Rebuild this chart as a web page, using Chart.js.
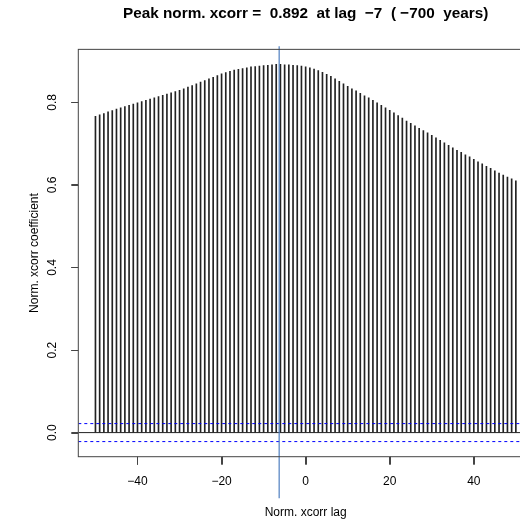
<!DOCTYPE html>
<html>
<head>
<meta charset="utf-8">
<script src="https://cdn.jsdelivr.net/npm/chart.js@4/dist/chart.umd.min.js"></script>
<style>
  html, body { margin: 0; padding: 0; background: #fff; overflow: hidden; }
  #wrap { width: 540px; height: 519px; }
</style>
</head>
<body>
<div id="wrap"><canvas id="xcorrChart"></canvas></div>
<script>
// lags shown in the plot
const lags = [
  -50, -49, -48, -47, -46, -45, -44, -43, -42, -41,
  -40, -39, -38, -37, -36, -35, -34, -33, -32, -31,
  -30, -29, -28, -27, -26, -25, -24, -23, -22, -21,
  -20, -19, -18, -17, -16, -15, -14, -13, -12, -11,
  -10, -9, -8, -7, -6, -5, -4, -3, -2, -1,
  0, 1, 2, 3, 4, 5, 6, 7, 8, 9,
  10, 11, 12, 13, 14, 15, 16, 17, 18, 19,
  20, 21, 22, 23, 24, 25, 26, 27, 28, 29,
  30, 31, 32, 33, 34, 35, 36, 37, 38, 39,
  40, 41, 42, 43, 44, 45, 46, 47, 48, 49,
  50
];

// normalised cross-correlation at each lag
const xcorr = [
  0.766, 0.770, 0.773, 0.777, 0.780, 0.784, 0.787, 0.790, 0.793, 0.796,
  0.799, 0.802, 0.805, 0.808, 0.811, 0.814, 0.817, 0.820, 0.823, 0.826,
  0.829, 0.833, 0.837, 0.841, 0.845, 0.849, 0.853, 0.857, 0.861, 0.865,
  0.869, 0.872, 0.875, 0.878, 0.880, 0.882, 0.884, 0.886, 0.887, 0.888,
  0.889, 0.890, 0.891, 0.892, 0.892, 0.891, 0.891, 0.890, 0.889, 0.888,
  0.886, 0.884, 0.881, 0.877, 0.873, 0.868, 0.863, 0.857, 0.851, 0.845,
  0.839, 0.833, 0.828, 0.822, 0.816, 0.811, 0.805, 0.799, 0.793, 0.787,
  0.781, 0.775, 0.768, 0.762, 0.755, 0.749, 0.743, 0.737, 0.732, 0.726,
  0.720, 0.714, 0.708, 0.702, 0.696, 0.690, 0.684, 0.679, 0.673, 0.668,
  0.662, 0.656, 0.651, 0.645, 0.640, 0.634, 0.629, 0.624, 0.619, 0.615,
  0.610
];

const confLimit = 0.0218;   // dashed significance lines at +/-
const peakLagLine = -6.3;   // where the vertical marker sits
const xRange = [-54.08, 54.08];
const yRange = [-0.0584, 0.9285];
const markerRange = [-0.159, 0.936];

const xTicks = [-40, -20, 0, 20, 40];
const yTicks = [0.0, 0.2, 0.4, 0.6, 0.8];

const titleText = 'Peak norm. xcorr =  0.892  at lag  \u22127  ( \u2212700  years)';

function fmtMinus(v) {
  return v < 0 ? '\u2212' + Math.abs(v) : String(v);
}

// R-style box round the plot region, plus outward tick marks
const boxPlugin = {
  id: 'box',
  afterDraw(chart) {
    const a = chart.chartArea;
    const c = chart.ctx;
    const xs = chart.scales.x;
    const ys = chart.scales.y;
    c.save();
    c.strokeStyle = '#444';
    c.lineWidth = 1;
    c.strokeRect(a.left, a.top, a.right - a.left, a.bottom - a.top);
    c.beginPath();
    xTicks.forEach(v => {
      const px = Math.round(xs.getPixelForValue(v)) + 0.5;
      c.moveTo(px, a.bottom);
      c.lineTo(px, a.bottom + 8);
    });
    yTicks.forEach(v => {
      const py = Math.round(ys.getPixelForValue(v)) + 0.5;
      c.moveTo(a.left, py);
      c.lineTo(a.left - 7, py);
    });
    c.stroke();
    c.restore();
  }
};

const ctx = document.getElementById('xcorrChart').getContext('2d');
new Chart(ctx, {
  type: 'bar',
  data: {
    datasets: [
      {
        type: 'line',
        label: 'zero',
        data: [{ x: xRange[0], y: 0 }, { x: xRange[1], y: 0 }],
        borderColor: '#222',
        borderWidth: 1,
        pointRadius: 0,
        order: 1
      },
      {
        type: 'line',
        label: 'upper',
        data: [{ x: xRange[0], y: confLimit }, { x: xRange[1], y: confLimit }],
        borderColor: '#0000ff',
        borderWidth: 1,
        borderDash: [3, 3],
        pointRadius: 0,
        order: 0
      },
      {
        type: 'line',
        label: 'lower',
        data: [{ x: xRange[0], y: -confLimit }, { x: xRange[1], y: -confLimit }],
        borderColor: '#0000ff',
        borderWidth: 1,
        borderDash: [3, 3],
        pointRadius: 0,
        order: 0
      },
      {
        type: 'line',
        label: 'peak',
        data: [{ x: peakLagLine, y: markerRange[0] }, { x: peakLagLine, y: markerRange[1] }],
        borderColor: '#4f7fc0',
        borderWidth: 1.2,
        pointRadius: 0,
        clip: false,
        order: -1
      },
      {
        label: 'xcorr',
        data: lags.map((l, i) => ({ x: l, y: xcorr[i] })),
        backgroundColor: '#222',
        barThickness: 1,
        order: 2
      }
    ]
  },
  options: {
    responsive: true,
    maintainAspectRatio: false,
    animation: false,
    layout: { padding: { left: 0, right: 7, top: 0, bottom: 0 } },
    plugins: {
      legend: { display: false },
      tooltip: { enabled: false },
      title: {
        display: true,
        text: titleText,
        fullSize: false,
        color: '#000',
        font: { family: 'Liberation Sans, Arial, sans-serif', size: 15.3, weight: 'bold' },
        padding: { top: 5, bottom: 26 }
      }
    },
    scales: {
      x: {
        type: 'linear',
        min: xRange[0],
        max: xRange[1],
        offset: false,
        afterBuildTicks: (s) => { s.ticks = xTicks.map(v => ({ value: v })); },
        afterFit: (s) => { s.height = 62.3; },
        grid: { display: true, offset: false, drawOnChartArea: false, drawTicks: true, tickLength: 8, color: '#444' },
        border: { display: false },
        ticks: {
          color: '#000',
          padding: 10,
          maxRotation: 0,
          font: { family: 'Liberation Sans, Arial, sans-serif', size: 12 },
          callback: (v) => fmtMinus(v)
        },
        title: {
          display: true,
          text: 'Norm. xcorr lag',
          color: '#000',
          font: { family: 'Liberation Sans, Arial, sans-serif', size: 12, lineHeight: 1.05 },
          padding: { top: 0, bottom: 0 }
        }
      },
      y: {
        type: 'linear',
        min: yRange[0],
        max: yRange[1],
        afterBuildTicks: (s) => { s.ticks = yTicks.map(v => ({ value: v })); },
        afterFit: (s) => { s.width = 78.3; },
        grid: { display: true, offset: false, drawOnChartArea: false, drawTicks: true, tickLength: 7, color: '#444' },
        border: { display: false },
        ticks: {
          color: '#000',
          minRotation: 90,
          maxRotation: 90,
          crossAlign: 'center',
          padding: 10,
          font: { family: 'Liberation Sans, Arial, sans-serif', size: 12 },
          callback: (v) => v.toFixed(1)
        },
        title: {
          display: true,
          text: 'Norm. xcorr coefficient',
          color: '#000',
          font: { family: 'Liberation Sans, Arial, sans-serif', size: 12, lineHeight: 1 },
          padding: { top: 29, bottom: 0 }
        }
      }
    }
  },
  plugins: [boxPlugin]
});
</script>
</body>
</html>
